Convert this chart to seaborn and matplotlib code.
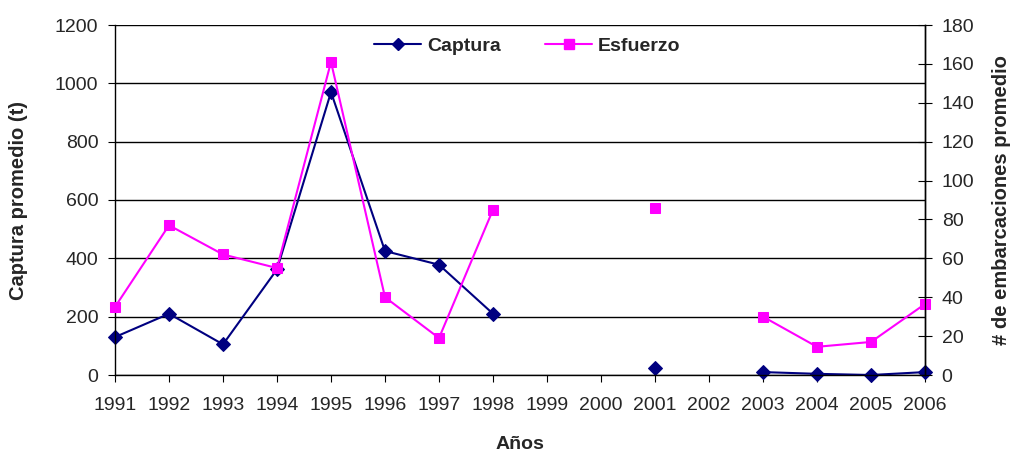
import numpy as np
import pandas as pd
import seaborn as sns
import matplotlib.pyplot as plt
from matplotlib.lines import Line2D

# --- data ---
years = ['1991', '1992', '1993', '1994', '1995', '1996', '1997', '1998',
         '1999', '2000', '2001', '2002', '2003', '2004', '2005', '2006']
captura = [130, 210, 105, 362, 970, 425, 378, 210,
           np.nan, np.nan, 25, np.nan, 10, 4, 0, 10]
esfuerzo = [35, 77, 62, 55, 161, 40, 19, 85,
            np.nan, np.nan, 86, np.nan, 30, 14.5, 17, 36.5]

df = pd.DataFrame({'pos': np.arange(len(years)), 'captura': captura, 'esfuerzo': esfuerzo})


# split each series into runs without gaps, so lines break where data is missing
def segments(col):
    miss = df[col].isna()
    seg = miss.cumsum()
    out = df.loc[~miss, ['pos', col]].copy()
    out['seg'] = seg[~miss]
    return out


sns.set_style('ticks')
plt.rcParams['font.family'] = ['Liberation Sans', 'DejaVu Sans']

navy = '#000080'
magenta = '#FF00FF'

fig = plt.figure(figsize=(10.13, 4.57), dpi=100)
ax = fig.add_axes([115 / 1013, 82 / 457, 810 / 1013, 350 / 457])
ax2 = ax.twinx()

sns.lineplot(data=segments('captura'), x='pos', y='captura', units='seg', estimator=None,
             ax=ax, color=navy, lw=1.5, marker='D', markersize=7,
             markeredgecolor=navy, markerfacecolor=navy, clip_on=False, legend=False)
sns.lineplot(data=segments('esfuerzo'), x='pos', y='esfuerzo', units='seg', estimator=None,
             ax=ax2, color=magenta, lw=1.5, marker='s', markersize=7,
             markeredgecolor=magenta, markerfacecolor=magenta, clip_on=False, legend=False)

ax.set_xlim(0, len(years) - 1)
ax.set_ylim(0, 1200)
ax2.set_ylim(0, 180)
ax.set_xticks(df['pos'])
ax.set_xticklabels(years)
ax.set_yticks(np.arange(0, 1201, 200))
ax2.set_yticks(np.arange(0, 181, 20))

ax.grid(axis='y', color='black', lw=1)
ax.set_axisbelow(True)
for a in (ax, ax2):
    a.spines['top'].set_visible(False)
    for s in a.spines.values():
        s.set_color('black')
        s.set_linewidth(1)
ax2.spines['left'].set_visible(False)
ax2.spines['bottom'].set_visible(False)

ax.tick_params(axis='y', direction='out', length=5, pad=7, labelsize=14, color='black')
ax.tick_params(axis='x', direction='out', length=5, pad=11, labelsize=14, color='black')
ax2.tick_params(axis='y', direction='inout', length=10, pad=7, labelsize=14, color='black')

ax.set_xlabel('Años', fontsize=14, fontweight='bold')
ax.set_ylabel('Captura promedio (t)', fontsize=14.5, fontweight='bold')
ax2.set_ylabel('# de embarcaciones promedio', fontsize=14.5, fontweight='bold')
ax.xaxis.set_label_coords(0.5, -0.175)
ax.yaxis.set_label_coords(-0.108, 0.5)
ax2.yaxis.set_label_coords(1.083, 0.5)
ax2.yaxis.label.set_rotation(90)

handles = [Line2D([], [], color=navy, lw=1.5, marker='D', markersize=6.5),
           Line2D([], [], color=magenta, lw=1.5, marker='s', markersize=6.5)]
leg = ax2.legend(handles, ['Captura', 'Esfuerzo'], ncol=2, frameon=False,
                 loc='center', bbox_to_anchor=(0.509, 0.94),
                 handlelength=2.4, handletextpad=0.3, columnspacing=2.3,
                 prop={'size': 14, 'weight': 'bold'})

fig.savefig('out.png', dpi=100)
